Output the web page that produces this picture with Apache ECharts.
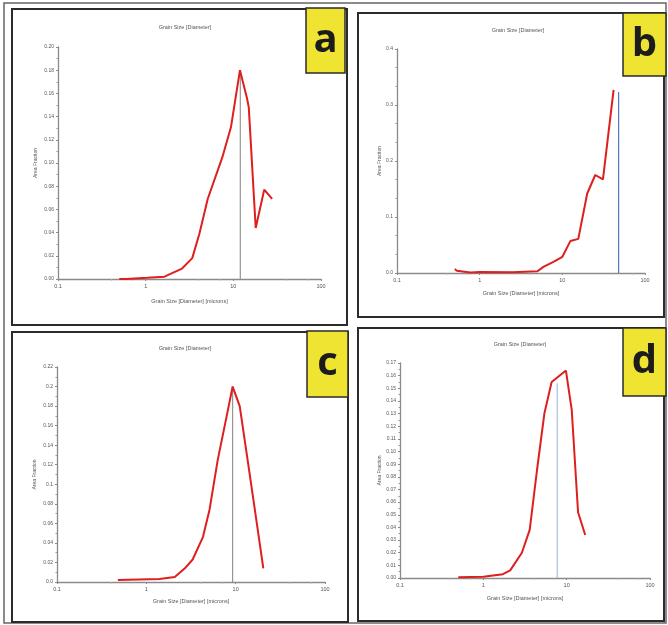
<!DOCTYPE html>
<html>
<head>
<meta charset="utf-8">
<script src="https://cdn.jsdelivr.net/npm/echarts@6/dist/echarts.min.js"></script>
<style>
html, body { margin: 0; padding: 0; background: #fff; }
#chart { width: 668px; height: 625px; }
</style>
</head>
<body>
<div id="chart"></div>
<script>
// Grain size distributions: area fraction against grain diameter (microns)

// Panel a
const sizeA = [0.5, 0.6, 1.04, 1.64, 2.0, 2.6, 3.4, 4.1, 5.1, 7.5, 9.4, 11.9, 14.3, 15, 18, 22.5, 27.7];
const fracA = [0.000, 0.000, 0.001, 0.002, 0.005, 0.009, 0.018, 0.039, 0.069, 0.105, 0.131, 0.180, 0.156, 0.148, 0.044, 0.077, 0.069];
const modeA = [12, 0.18];

// Panel b
const sizeB = [0.50, 0.53, 0.77, 1.0, 2.5, 5.0, 5.9, 7.8, 10, 12.5, 15.6, 20, 25, 31, 41.7];
const fracB = [0.007, 0.004, 0.001, 0.002, 0.0015, 0.003, 0.011, 0.020, 0.029, 0.057, 0.061, 0.142, 0.175, 0.167, 0.327];
const modeB = [48, 0.323];

// Panel c
const sizeC = [0.48, 1.4, 2.08, 2.7, 3.3, 4.3, 5.1, 6.3, 7.9, 9.25, 11.1, 13.6, 17.0, 20.4];
const fracC = [0.002, 0.003, 0.005, 0.014, 0.023, 0.046, 0.074, 0.125, 0.169, 0.200, 0.180, 0.125, 0.064, 0.014];
const modeC = [9.25, 0.2];

// Panel d
const sizeD = [0.5, 1.0, 1.72, 2.1, 2.9, 3.6, 4.4, 5.4, 6.6, 9.8, 11.5, 13.7, 16.7];
const fracD = [0.0005, 0.001, 0.003, 0.006, 0.020, 0.038, 0.085, 0.130, 0.155, 0.164, 0.133, 0.052, 0.034];
const modeD = [7.7, 0.154];

// Axis ranges [min, max, step] for the area-fraction axes
const yRangeA = [0, 0.20, 0.02];
const yRangeB = [0, 0.4, 0.1];
const yRangeC = [0, 0.22, 0.02];
const yRangeD = [0, 0.17, 0.01];

// Size axis: decades 0.1 .. 100
const xRange = [0.1, 100];
const panelLetters = ['a', 'b', 'c', 'd'];
const plotTitle = 'Grain Size [Diameter]';
const xTitle = 'Grain Size [Diameter] [microns]';
const yTitle = 'Area Fraction';

const FONT = 'Liberation Sans, DejaVu Sans, sans-serif';
const AXIS_GREY = '#8a8a8a';
const RED = '#de1f1f';

const grids = [
  { left: 58,  top: 47,  width: 263, height: 232 },
  { left: 397, top: 49,  width: 248, height: 224 },
  { left: 57,  top: 367, width: 268, height: 215 },
  { left: 400, top: 363, width: 250, height: 215 }
];

const yRanges = [yRangeA, yRangeB, yRangeC, yRangeD];
const yFormat = [
  v => v.toFixed(2),
  v => v.toFixed(1),
  v => (v === 0 ? '0.0' : String(+v.toFixed(2))),
  v => v.toFixed(2)
];
const yNameGap = [20, 14, 20, 17];
const xNameGap = [19, 17, 16, 17];

const xAxes = grids.map((g, i) => ({
  type: 'log',
  logBase: 10,
  gridIndex: i,
  min: xRange[0],
  max: xRange[1],
  name: xTitle,
  nameLocation: 'middle',
  nameGap: xNameGap[i],
  nameTextStyle: { fontSize: 5.5, color: '#555', fontFamily: FONT },
  axisLine: { lineStyle: { color: AXIS_GREY, width: 1.3 } },
  axisTick: { length: 2, lineStyle: { color: AXIS_GREY } },
  minorTick: { show: true, splitNumber: 3, length: 1.5, lineStyle: { color: '#aaa' } },
  axisLabel: {
    fontSize: 5.5, color: '#555', fontFamily: FONT, margin: 4,
    formatter: v => String(+Number(v).toPrecision(3))
  },
  splitLine: { show: false }
}));

const yAxes = grids.map((g, i) => ({
  type: 'value',
  gridIndex: i,
  min: yRanges[i][0],
  max: yRanges[i][1],
  interval: yRanges[i][2],
  name: yTitle,
  nameLocation: 'middle',
  nameRotate: 90,
  nameGap: yNameGap[i],
  nameTextStyle: { fontSize: 5, color: '#555', fontFamily: FONT },
  axisLine: { show: true, lineStyle: { color: AXIS_GREY, width: 1.3 } },
  axisTick: { show: true, length: 2, lineStyle: { color: AXIS_GREY } },
  minorTick: { show: true, splitNumber: i === 1 ? 3 : 2, length: 1.5, lineStyle: { color: '#999' } },
  axisLabel: { fontSize: 5, color: '#555', fontFamily: FONT, margin: 4, formatter: yFormat[i] },
  splitLine: { show: false }
}));

const curves = [[sizeA, fracA], [sizeB, fracB], [sizeC, fracC], [sizeD, fracD]];
const modes = [modeA, modeB, modeC, modeD];
const modeColors = ['#8c8c8c', '#3f6db8', '#8c8c8c', '#9ab9de'];

const series = [];
curves.forEach(([xs, ys], i) => {
  series.push({
    type: 'line',
    xAxisIndex: i,
    yAxisIndex: i,
    data: [[modes[i][0], 0], [modes[i][0], modes[i][1]]],
    showSymbol: false,
    silent: true,
    lineStyle: { color: modeColors[i], width: 1.1 },
    z: 1
  });
  series.push({
    type: 'line',
    xAxisIndex: i,
    yAxisIndex: i,
    data: xs.map((x, k) => [x, ys[k]]),
    showSymbol: false,
    lineStyle: { color: RED, width: 2 },
    z: 3
  });
});

const titles = [
  { left: 180, top: 19 },
  { left: 513, top: 22 },
  { left: 180, top: 340 },
  { left: 515, top: 336 }
].map(p => ({
  text: plotTitle,
  left: p.left,
  top: p.top,
  textAlign: 'center',
  textStyle: { fontSize: 5.5, fontWeight: 'normal', color: '#555', fontFamily: FONT }
}));

// Frames around the figure and each panel, plus the lettered badges
const frames = [
  { x: 4, y: 3, width: 662, height: 620, stroke: '#666', lw: 1.5 },
  { x: 12, y: 9, width: 335, height: 316, stroke: '#2b2b2b', lw: 2 },
  { x: 358, y: 13, width: 306, height: 304, stroke: '#2b2b2b', lw: 2 },
  { x: 12, y: 332, width: 336, height: 290, stroke: '#2b2b2b', lw: 2 },
  { x: 358, y: 328, width: 306, height: 293, stroke: '#2b2b2b', lw: 2 }
];
const badges = [
  { x: 306, y: 8, width: 39, height: 65 },
  { x: 623, y: 13, width: 43, height: 63 },
  { x: 307, y: 331, width: 41, height: 66 },
  { x: 623, y: 328, width: 43, height: 68 }
];

const graphic = [];
frames.forEach(f => graphic.push({
  type: 'rect',
  shape: { x: f.x, y: f.y, width: f.width, height: f.height },
  style: { fill: 'none', stroke: f.stroke, lineWidth: f.lw },
  z: 10
}));
badges.forEach((b, i) => {
  graphic.push({
    type: 'rect',
    shape: { x: b.x, y: b.y, width: b.width, height: b.height },
    style: { fill: '#efe431', stroke: '#2b2b2b', lineWidth: 1.5 },
    z: 20
  });
  graphic.push({
    type: 'text',
    x: b.x + b.width / 2,
    y: b.y + b.height / 2,
    style: {
      text: panelLetters[i],
      fill: '#1c1c1c',
      font: 'bold 40px "Open Sans", "Liberation Sans", sans-serif',
      textAlign: 'center',
      textVerticalAlign: 'middle'
    },
    z: 21
  });
});

const chart = echarts.init(document.getElementById('chart'), null, { renderer: 'canvas' });
chart.setOption({
  backgroundColor: '#ffffff',
  animation: false,
  title: titles,
  grid: grids,
  xAxis: xAxes,
  yAxis: yAxes,
  series: series,
  graphic: graphic
});
</script>
</body>
</html>
